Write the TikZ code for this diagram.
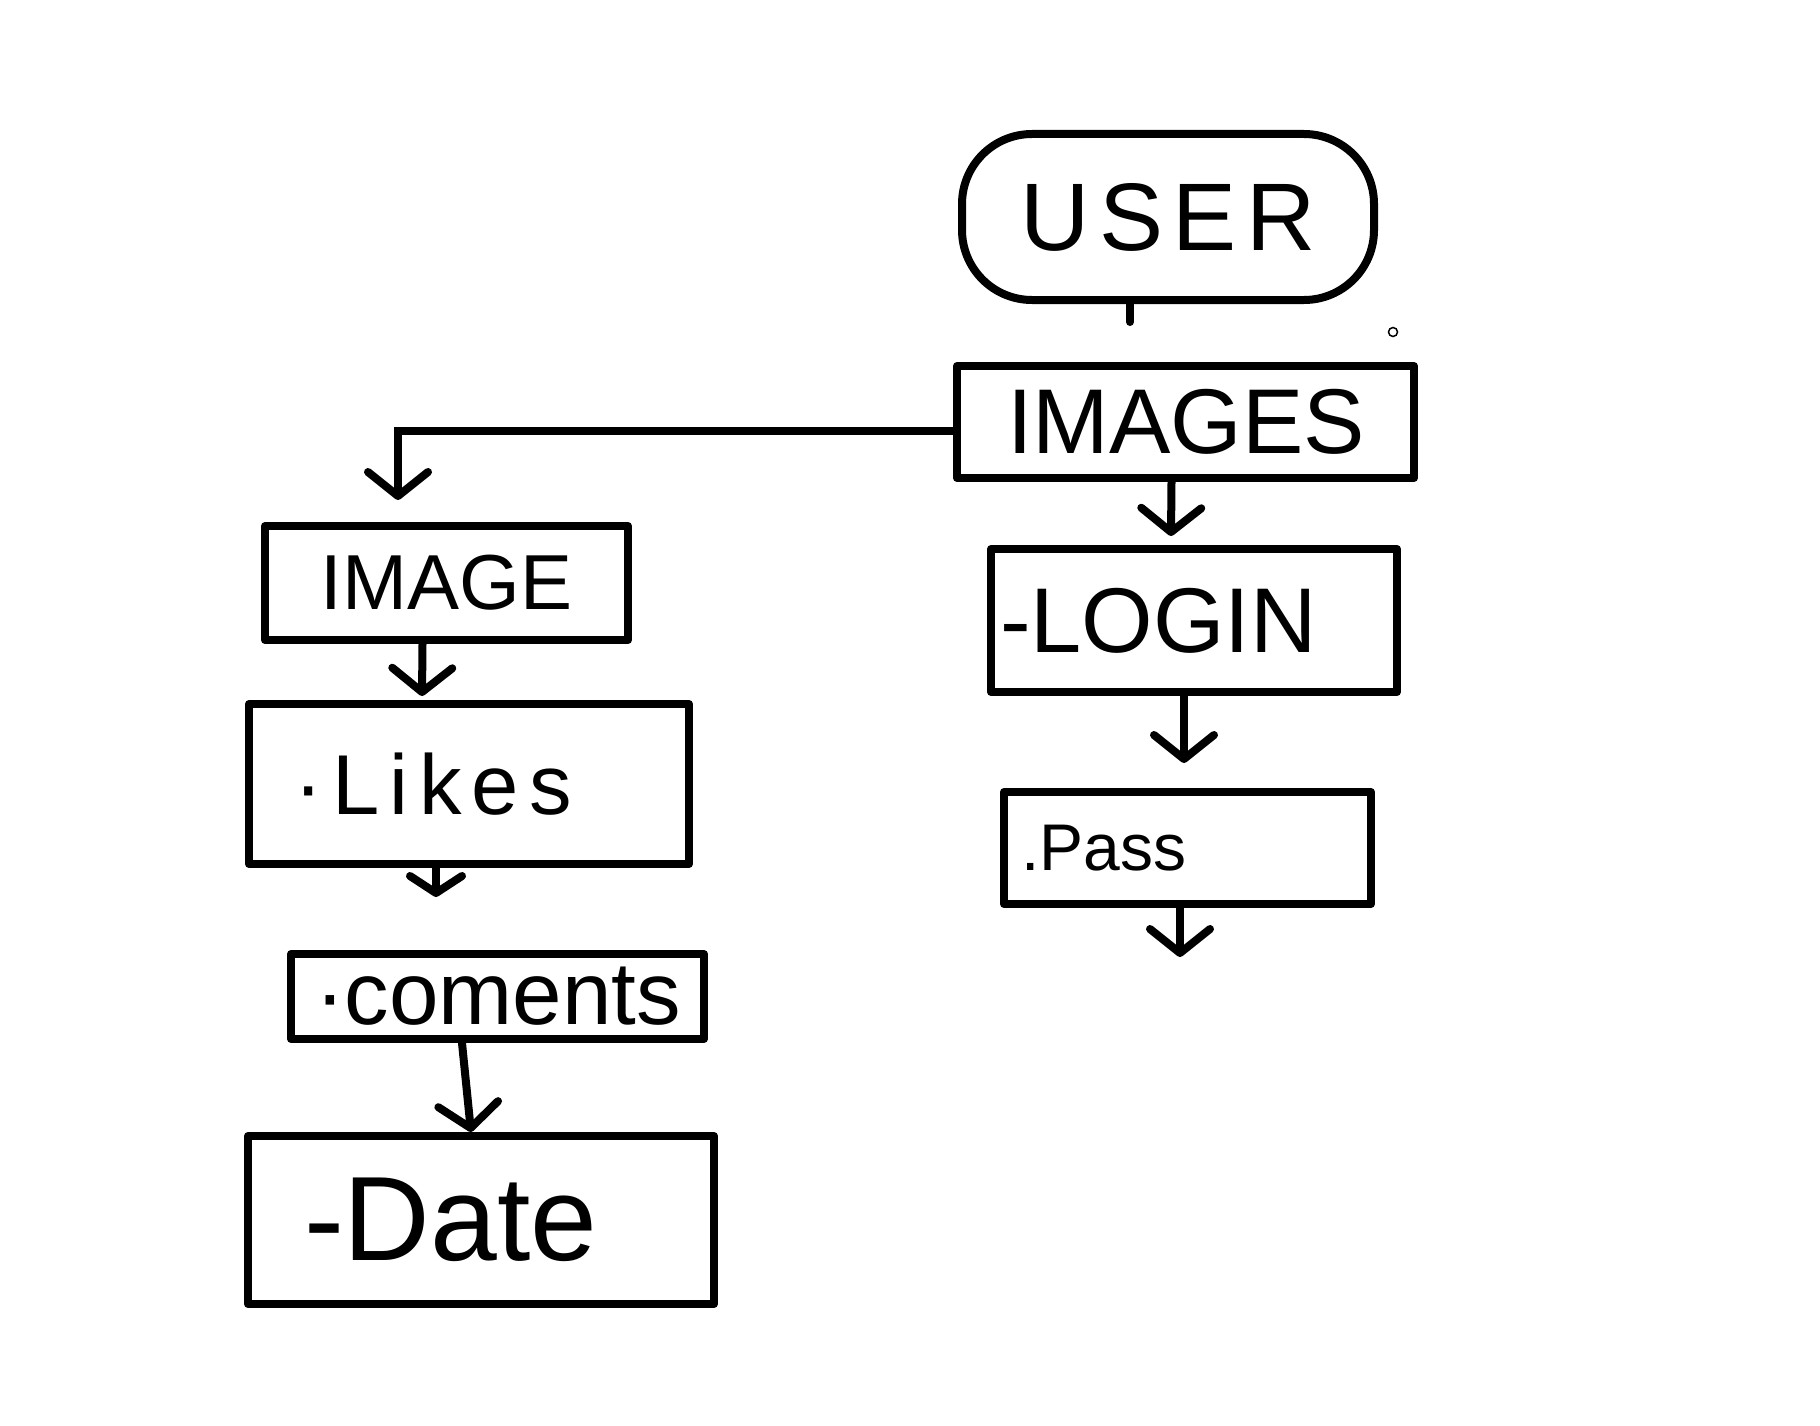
\documentclass[tikz,border=0pt]{standalone}
\usepackage{fontspec}
\setmainfont{Liberation Sans}
\usetikzlibrary{arrows.meta}
\begin{document}
\begin{tikzpicture}[x=1pt,y=-1pt,
  box/.style={draw, line width=8pt, line join=round, anchor=north west, inner ysep=0pt},
  arr/.style={line width=8pt, line cap=round, -{Straight Barb[length=24pt,width=60pt,line cap=round,line join=round]}},
  shortarr/.style={line width=8pt, line cap=round, -{Straight Barb[length=17pt,width=52pt,line cap=round,line join=round]}},
  ln/.style={line width=8pt, line cap=round}]
\fill[white] (0,0) rectangle (1820,1426);
\useasboundingbox (0,0) rectangle (1820,1426);

% right column
\node[box, rounded corners=70pt, inner xsep=20pt, text width=372pt, minimum height=166pt, align=center,
  font=\fontsize{96}{100}\selectfont\addfontfeature{LetterSpace=10}] (user) at (958,130) {USER};
\node[box, inner xsep=50pt, text width=357pt, minimum height=112pt, align=center,
  font=\fontsize{92}{96}\selectfont] (images) at (953,362) {IMAGES};
\node[box, inner xsep=9pt, text width=388pt, minimum height=143pt, align=left,
  font=\fontsize{92}{96}\selectfont] (login) at (987,545) {-LOGIN};
\node[box, inner xsep=17pt, text width=333pt, minimum height=112pt, align=left,
  font=\fontsize{66}{70}\selectfont] (pass) at (1000,788) {.Pass};

% left column
\node[box, inner xsep=30pt, text width=303pt, minimum height=114pt, align=center,
  font=\fontsize{78}{82}\selectfont] (image) at (261,522) {IMAGE};
\node[box, inner xsep=45pt, text width=350pt, minimum height=160pt, align=left,
  font=\fontsize{85}{90}\selectfont\addfontfeature{LetterSpace=12}] (likes) at (245,700) {·Likes};
\node[box, inner xsep=24pt, text width=365pt, minimum height=85pt, align=left,
  font=\fontsize{89}{92}\selectfont] (coments) at (287,950) {·coments};
\node[box, inner xsep=56pt, text width=354pt, minimum height=168pt, align=left,
  font=\fontsize{120}{124}\selectfont] (date) at (244,1132) {-Date};

% connectors
\coordinate (ustub) at (1130,322);
\draw[ln] (user.south -| ustub) -- (ustub);
\draw[arr] ([yshift=-9pt]images.west) -| ([xshift=137pt,yshift=22pt]image.north west);
\draw[arr] ([xshift=-14pt]images.south) -- ([xshift=-23pt,yshift=9pt]login.north);
\draw[arr] ([xshift=-10pt]login.south) -- ([xshift=-3.5pt,yshift=25pt]pass.north);
\coordinate (passend) at (1180,957);
\draw[arr] (pass.south -| passend) -- (passend);
\draw[arr] ([xshift=-24pt]image.south) -- ([xshift=-47pt,yshift=4pt]likes.north);
\draw[shortarr] ([xshift=-33pt]likes.south) -- ([xshift=-61.5pt,yshift=53pt]coments.north);
\draw[arr] ([xshift=-35.5pt]coments.south) -- ([xshift=-10pt]date.north);

% stray mark
\draw[line width=1.5pt] (1393,332) circle[radius=4.5pt];
\end{tikzpicture}
\end{document}
